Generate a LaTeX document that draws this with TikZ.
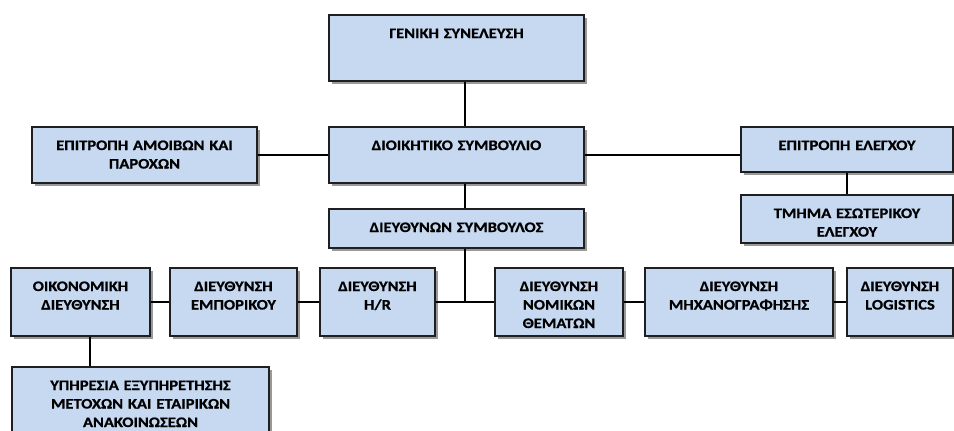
\documentclass[tikz,border=0pt]{standalone}
\usepackage{fontspec}
\setmainfont{Carlito}[FakeStretch=1.14, FakeBold=0.8]
\usetikzlibrary{shadows}
\definecolor{boxblue}{HTML}{C6D9F1}
\definecolor{boxline}{HTML}{1F1F1F}

\begin{document}
\begin{tikzpicture}[
    x=1pt, y=-1pt,
    unit/.style={rectangle, draw=boxline, fill=boxblue, line width=1.3pt, inner xsep=2pt, inner ysep=0pt, align=center, text height=23pt, font=\bfseries\fontsize{14.5}{18.5}\selectfont, drop shadow={shadow xshift=3pt, shadow yshift=-3pt, fill=black!40, opacity=1}},
    link/.style={draw=black, line width=1.1pt}
]
\useasboundingbox (0,0) rectangle (954,431);
\clip (0,0) rectangle (954,431);

% board level
\node[unit, text width=251pt, text depth=43pt] (gs) at (456.5,48) {ΓΕΝΙΚΗ ΣΥΝΕΛΕΥΣΗ};
\node[unit, text width=251pt, text depth=33pt] (bod) at (456.5,155) {ΔΙΟΙΚΗΤΙΚΟ ΣΥΜΒΟΥΛΙΟ};
\node[unit, text width=251pt, text depth=16pt] (ceo) at (456.5,228.5) {ΔΙΕΥΘΥΝΩΝ ΣΥΜΒΟΥΛΟΣ};
\node[unit, text width=221pt, text depth=33pt] (rem) at (144.5,155) {ΕΠΙΤΡΟΠΗ ΑΜΟΙΒΩΝ ΚΑΙ\\ΠΑΡΟΧΩΝ};
\node[unit, text width=208pt, text depth=22pt] (audit) at (847,149.5) {ΕΠΙΤΡΟΠΗ ΕΛΕΓΧΟΥ};
\node[unit, text width=208pt, text depth=25pt] (ia) at (847,219) {ΤΜΗΜΑ ΕΣΩΤΕΡΙΚΟΥ\\ΕΛΕΓΧΟΥ};

% departments
\node[unit, text width=135pt, text depth=45pt] (fin) at (80.5,302) {ΟΙΚΟΝΟΜΙΚΗ\\ΔΙΕΥΘΥΝΣΗ};
\node[unit, text width=123pt, text depth=45pt] (com) at (233.5,302) {ΔΙΕΥΘΥΝΣΗ\\ΕΜΠΟΡΙΚΟΥ};
\node[unit, text width=111pt, text depth=45pt] (hr) at (377.5,302) {ΔΙΕΥΘΥΝΣΗ\\H/R};
\node[unit, text width=124pt, text depth=45pt] (leg) at (559,302) {ΔΙΕΥΘΥΝΣΗ\\ΝΟΜΙΚΩΝ\\ΘΕΜΑΤΩΝ};
\node[unit, text width=184pt, text depth=45pt] (it) at (739,302) {ΔΙΕΥΘΥΝΣΗ\\ΜΗΧΑΝΟΓΡΑΦΗΣΗΣ};
\node[unit, text width=102pt, text depth=45pt] (log) at (900,302) {ΔΙΕΥΘΥΝΣΗ\\LOGISTICS};
\node[unit, text width=253pt, text depth=55pt] (sh) at (140.5,406) {ΥΠΗΡΕΣΙΑ ΕΞΥΠΗΡΕΤΗΣΗΣ\\ΜΕΤΟΧΩΝ ΚΑΙ ΕΤΑΙΡΙΚΩΝ\\ΑΝΑΚΟΙΝΩΣΕΩΝ};

\coordinate (spine) at (465,0);
\coordinate (finx) at (90,0);

% connectors
\path[link] (gs.south -| spine) -- (bod.north -| spine);
\path[link] (bod.south -| spine) -- (ceo.north -| spine);
\path[link] (ceo.south -| spine) -- (spine |- hr.east);
\path[link] (rem.east) -- (bod.west);
\path[link] (bod.east) -- (bod.east -| audit.west);
\path[link] (audit.south) -- (ia.north);
\path[link] (fin.east) -- (com.west);
\path[link] (com.east) -- (hr.west);
\path[link] (hr.east) -- (leg.west);
\path[link] (leg.east) -- (it.west);
\path[link] (it.east) -- (log.west);
\path[link] (fin.south -| finx) -- (sh.north -| finx);
\end{tikzpicture}
\end{document}
